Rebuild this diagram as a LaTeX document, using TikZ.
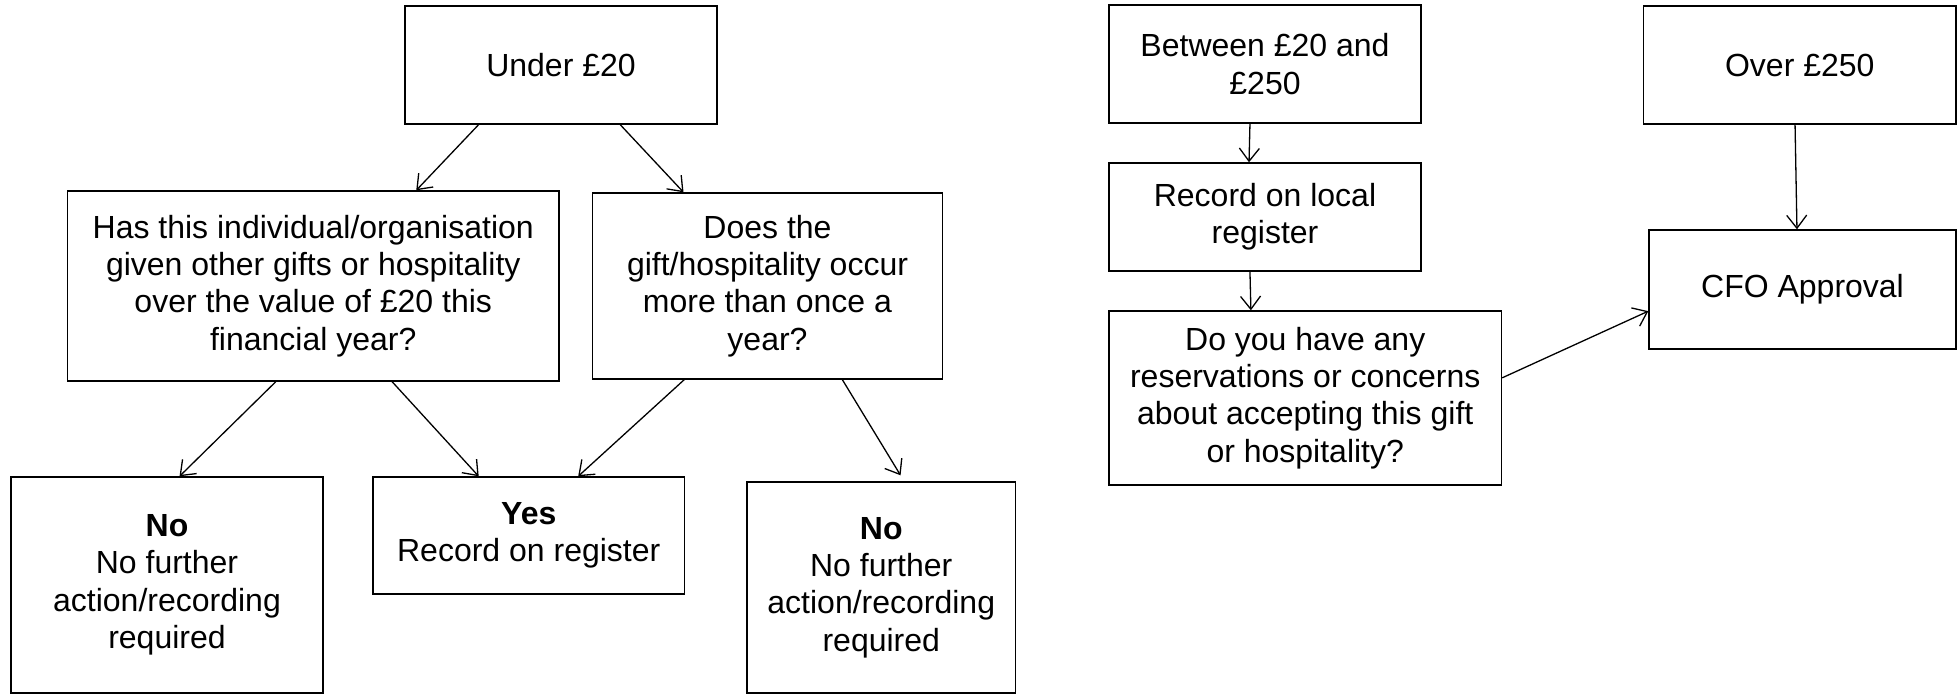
\documentclass[tikz,border=0pt]{standalone}
\usepackage{fontspec}
\setmainfont{Liberation Sans}
\usetikzlibrary{calc,arrows.meta}
\begin{document}
\begin{tikzpicture}[x=0.5pt,y=-0.5pt,
  box/.style={draw,line width=0.7pt,inner sep=0pt,align=center,font=\fontsize{16pt}{18.7pt}\selectfont},
  conn/.style={line width=0.65pt,-{Straight Barb[length=6.5pt,width=10pt,line width=0.65pt]}}]
\useasboundingbox (0,0) rectangle (1957,694);
\node[box,minimum width=156pt,minimum height=59pt] (under) at (561,65) {Under £20};
\node[box,minimum width=245.75pt,minimum height=95pt] (has) at (313.25,286) {Has this individual/organisation\\given other gifts or hospitality\\over the value of £20 this\\financial year?};
\node[box,minimum width=175pt,minimum height=93pt] (does) at (767.5,286) {Does the\\gift/hospitality occur\\more than once a\\year?};
\node[box,minimum width=156pt,minimum height=108pt] (no1) at (167,585) {\textbf{No}\\No further\\action/recording\\required};
\node[box,minimum width=155.75pt,minimum height=58.5pt] (yes) at (528.75,535.5) {\textbf{Yes}\\Record on register};
\node[box,minimum width=134.25pt,minimum height=105.5pt] (no2) at (881.25,587.5) {\textbf{No}\\No further\\action/recording\\required};
\node[box,minimum width=156pt,minimum height=59pt] (between) at (1265,64) {Between £20 and\\£250};
\node[box,minimum width=156.25pt,minimum height=59pt] (over) at (1799.75,65) {Over £250};
\node[box,minimum width=156pt,minimum height=54pt] (record) at (1265,217) {Record on local\\register};
\node[box,minimum width=196.25pt,minimum height=87pt] (doyou) at (1305.25,398) {Do you have any\\reservations or concerns\\about accepting this gift\\or hospitality?};
\node[box,minimum width=153.5pt,minimum height=59.5pt] (cfo) at (1802.5,289.5) {CFO Approval};
\draw[conn] ($(under.south west)!0.237!(under.south east)$) -- ($(has.north west)!0.709!(has.north east)$);
\draw[conn] ($(under.south west)!0.689!(under.south east)$) -- ($(does.north west)!0.261!(does.north east)$);
\draw[conn] ($(has.south west)!0.424!(has.south east)$) -- ($(no1.north west)!0.540!(no1.north east)$);
\draw[conn] ($(has.south west)!0.660!(has.south east)$) -- ($(yes.north west)!0.340!(yes.north east)$);
\draw[conn] ($(does.south west)!0.263!(does.south east)$) -- ($(yes.north west)!0.658!(yes.north east)$);
\draw[conn,shorten >=3.5pt] ($(does.south west)!0.713!(does.south east)$) -- ($(no2.north west)!0.585!(no2.north east)$);
\draw[conn] ($(between.south west)!0.452!(between.south east)$) -- ($(record.north west)!0.449!(record.north east)$);
\draw[conn] ($(record.south west)!0.452!(record.south east)$) -- ($(doyou.north west)!0.362!(doyou.north east)$);
\draw[conn] ($(over.south west)!0.485!(over.south east)$) -- ($(cfo.north west)!0.482!(cfo.north east)$);
\draw[conn] ($(doyou.north east)!0.385!(doyou.south east)$) -- ($(cfo.north west)!0.68!(cfo.south west)$);
\end{tikzpicture}
\end{document}
